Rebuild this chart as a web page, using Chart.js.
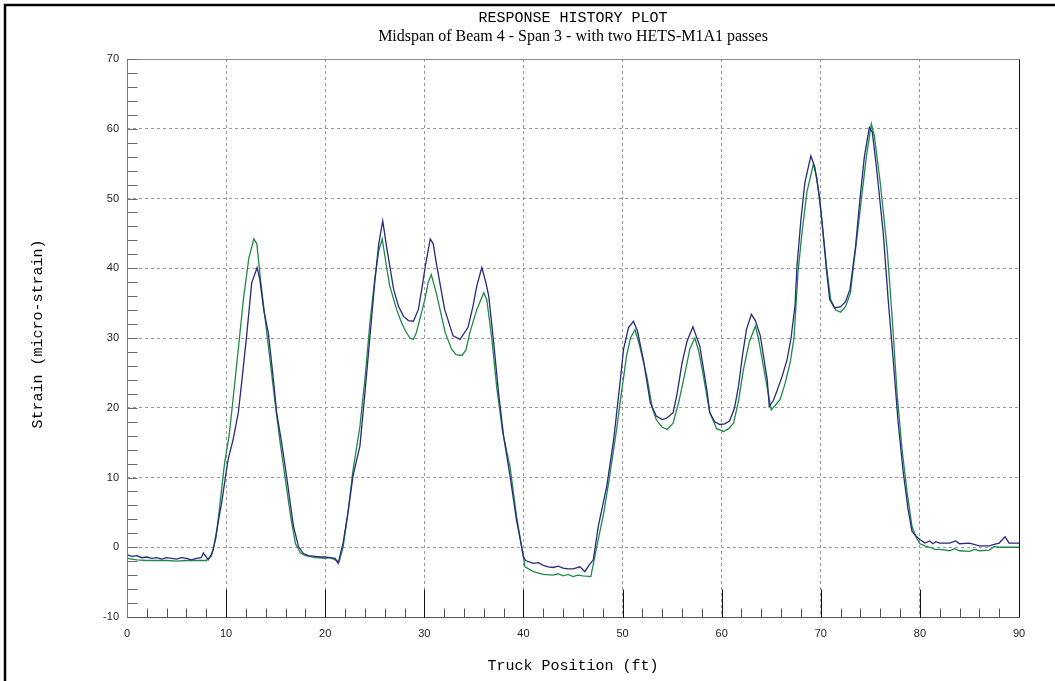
<!DOCTYPE html>
<html>
<head>
<meta charset="utf-8">
<title>Response History Plot</title>
<script src="https://cdn.jsdelivr.net/npm/chart.js@4.4.1/dist/chart.umd.min.js"></script>
<style>
  html, body { margin: 0; padding: 0; background: #ffffff; }
  canvas { display: block; }
</style>
</head>
<body>
<canvas id="plot" width="1055" height="681"></canvas>
<script>
// Strain response at midspan of beam 4, span 3, for two passes of the HETS-M1A1 truck
const titleText = 'RESPONSE HISTORY PLOT';
const subtitleText = 'Midspan of Beam 4 - Span 3 - with two HETS-M1A1 passes';
const xAxisTitle = 'Truck Position (ft)';
const yAxisTitle = 'Strain (micro-strain)';

const xTickValues = [0, 10, 20, 30, 40, 50, 60, 70, 80, 90];
const yTickValues = [-10, 0, 10, 20, 30, 40, 50, 60, 70];

// first pass (navy trace)
const passOneFt = [
  0, 0.5, 1, 1.5, 2, 2.5, 3, 3.5, 4, 4.5, 5, 5.5, 6, 6.5, 7, 7.5, 7.7, 8.2, 8.5, 8.7,
  9.0, 9.55, 10.2, 10.7, 11.23, 11.6, 12.07, 12.58, 13.13, 13.4, 13.8, 14.25, 14.7, 15.1, 15.6, 16.1,
  16.5, 16.8, 17.3, 17.8, 18.3, 19, 19.5, 20, 20.5, 21, 21.3, 21.8, 22.3, 22.8, 23.5, 24,
  24.5, 25, 25.4, 25.8, 26.2, 26.9, 27.4, 27.9, 28.4, 28.9, 29.4, 29.8, 30.1, 30.6, 30.9, 31.2,
  32.05, 32.9, 33.6, 34.4, 34.9, 35.3, 35.8, 36.2, 36.5, 37, 37.5, 38, 38.65, 39.3, 40, 40.2,
  41, 41.5, 42, 42.5, 43, 43.5, 44, 44.5, 45, 45.7, 46.2, 46.6, 47.05, 47.55, 48.4, 49.1,
  49.7, 50.1, 50.6, 51.1, 51.5, 52.1, 52.8, 53.4, 54, 54.45, 55.1, 55.5, 56, 56.5, 57.1, 57.8,
  58.5, 58.8, 59.3, 59.8, 60.3, 60.8, 61.3, 61.7, 62.1, 62.5, 63, 63.4, 63.9, 64.6, 64.8, 65.2,
  65.5, 66.1, 66.6, 67, 67.4, 67.6, 68, 68.4, 69, 69.4, 69.9, 70.3, 70.6, 70.9, 71.4, 72,
  72.5, 72.95, 73.5, 73.95, 74.4, 74.9, 75.2, 75.6, 76.3, 76.8, 77.3, 77.8, 78.3, 78.8, 79.2, 79.6,
  80, 80.5, 81, 81.3, 81.6, 82, 83, 83.6, 84, 85, 86, 87, 87.5, 88, 88.6, 89, 90
];
const passOneStrain = [
  -1.1, -1.3, -1.2, -1.5, -1.4, -1.6, -1.5, -1.7, -1.5, -1.6, -1.7, -1.5, -1.6, -1.8, -1.6, -1.5, -0.8, -1.8, -1.0, -0.4,
  2.0, 6.4, 12.6, 15.4, 19.3, 24.0, 30.3, 37.9, 40.1, 38.4, 34.0, 30.8, 25.0, 19.3, 15.0, 10.2,
  6.0, 3.0, 0.1, -0.9, -1.2, -1.3, -1.4, -1.4, -1.5, -1.6, -2.3, 0.6, 5.0, 10.2, 14.5, 22.0,
  30.0, 38.0, 43.5, 46.8, 43.0, 37.0, 34.5, 33.1, 32.5, 32.4, 34.1, 37.5, 40.3, 44.2, 43.5, 40.8,
  34.1, 30.3, 29.8, 31.5, 34.5, 37.5, 40.1, 38.0, 36.0, 29.3, 22.0, 15.9, 10.2, 3.9, -1.3, -1.9,
  -2.3, -2.2, -2.6, -2.8, -2.9, -2.7, -3.0, -3.1, -3.1, -2.8, -3.5, -2.6, -1.8, 3.0, 8.7, 15.4,
  23.0, 28.4, 31.5, 32.4, 31.0, 26.9, 20.7, 18.8, 18.3, 18.5, 19.3, 22.0, 26.4, 29.5, 31.6, 28.8,
  22.6, 19.3, 18.0, 17.6, 17.7, 18.1, 20.0, 23.1, 27.5, 31.2, 33.4, 32.5, 30.3, 24.0, 20.2, 21.0,
  22.1, 24.5, 26.9, 30.0, 34.6, 40.3, 47.0, 52.3, 56.1, 54.5, 49.9, 44.0, 39.4, 35.5, 34.3, 34.5,
  35.2, 37.0, 43.0, 49.9, 56.0, 60.2, 59.5, 54.7, 45.1, 35.5, 27.0, 18.0, 11.0, 5.5, 2.3, 1.6,
  1.1, 0.6, 0.9, 0.5, 0.8, 0.6, 0.6, 0.9, 0.5, 0.6, 0.2, 0.2, 0.4, 0.6, 1.5, 0.6, 0.6
];

// second pass (green trace)
const passTwoFt = [
  0, 0.5, 1, 2, 3, 4, 5, 6, 7, 8, 8.5, 9.0, 9.85, 10.3, 10.7, 11.2, 11.74, 12.3, 12.8, 13.1,
  13.5, 14, 14.5, 15, 15.5, 16, 16.5, 17, 17.5, 18, 19, 20, 20.5, 21, 21.4, 21.8, 22.3, 22.8,
  23.5, 24, 24.5, 25, 25.4, 25.75, 26.1, 26.5, 27.2, 27.7, 28.1, 28.55, 28.9, 29.2, 29.6, 30.05,
  30.4, 30.7, 31.2, 32.1, 32.75, 33.2, 33.8, 34.2, 34.6, 35.3, 36, 36.3, 36.8, 37.3, 37.9, 38.65,
  39.3, 40, 40.15, 41, 42, 43, 43.5, 44, 44.5, 45, 45.5, 46, 46.8, 47.4, 48.1, 48.7, 49.4,
  49.7, 50.4, 50.8, 51.25, 51.7, 52.45, 53, 53.4, 54, 54.5, 55.1, 55.7, 56.3, 56.8, 57.3, 57.7,
  58.1, 58.8, 59.5, 60.2, 60.7, 61.2, 61.7, 62.2, 62.8, 63.4, 63.7, 64.2, 65, 65.5, 65.9, 66.4,
  66.9, 67.3, 67.7, 68.1, 68.6, 69.25, 69.6, 70.1, 70.6, 71, 71.5, 72, 72.5, 73, 73.3, 73.7,
  74.1, 74.6, 75.1, 75.4, 76, 76.7, 77.2, 77.7, 78.2, 78.7, 79.2, 79.6, 80, 80.5, 81, 81.5,
  82, 83, 83.5, 84, 85, 85.5, 86, 87, 87.5, 88, 89, 90
];
const passTwoStrain = [
  -1.6, -1.7, -1.8, -1.9, -1.9, -1.9, -2.0, -1.9, -1.9, -1.9, -1.3, 1.5, 12.1, 16.0, 21.2, 28.0, 35.5, 41.5, 44.2, 43.5,
  38.0, 32.0, 26.0, 20.0, 14.5, 9.5, 4.5, 0.5, -0.8, -1.2, -1.5, -1.6, -1.5, -1.8, -2.1, 0.0, 5.0, 11.0,
  17.3, 24.0, 32.0, 38.5, 42.5, 44.2, 41.0, 37.5, 34.1, 32.2, 31.0, 30.0, 29.8, 30.8, 33.0, 35.5,
  38.0, 39.1, 36.5, 30.8, 28.4, 27.6, 27.5, 28.3, 30.8, 34.1, 36.5, 35.5, 30.0, 23.0, 16.5, 11.5,
  4.5, -1.5, -2.8, -3.5, -3.9, -4.0, -3.8, -4.1, -3.9, -4.2, -4.0, -4.1, -4.2, 0.1, 4.9, 10.2, 16.9,
  20.2, 27.4, 30.0, 31.2, 29.0, 24.5, 20.0, 18.3, 17.2, 16.9, 17.8, 21.0, 25.0, 28.5, 30.0, 28.0,
  25.0, 19.3, 17.0, 16.6, 17.0, 17.8, 21.0, 25.5, 29.5, 31.7, 30.0, 26.0, 19.7, 20.5, 21.2, 23.5,
  26.4, 30.0, 39.4, 45.0, 50.9, 54.9, 53.0, 47.0, 40.0, 35.5, 34.0, 33.7, 34.5, 36.5, 40.3, 45.0,
  49.9, 56.0, 60.7, 59.0, 52.3, 42.7, 33.0, 22.0, 14.0, 8.0, 3.0, 1.5, 0.5, 0.2, 0.0, -0.3,
  -0.3, -0.5, -0.2, -0.5, -0.6, -0.3, -0.5, -0.4, 0.1, 0.0, 0.0, 0.0
];

const toPoints = (xs, ys) => xs.map((x, i) => ({ x: x, y: ys[i] }));

// Frame, axis lines, tick marks and titles drawn around the plotting area
const framePlugin = {
  id: 'frame',
  afterDraw(chart) {
    const ctx = chart.ctx;
    const area = chart.chartArea;
    const xs = chart.scales.x;
    const ys = chart.scales.y;
    const L = Math.round(area.left) + 0.5;
    const R = Math.round(area.right) + 0.5;
    const T = Math.round(area.top) + 0.5;
    const B = Math.round(area.bottom) + 0.5;
    ctx.save();

    // outer frame
    ctx.strokeStyle = '#000000';
    ctx.lineWidth = 2.5;
    ctx.beginPath();
    ctx.moveTo(5, chart.height);
    ctx.lineTo(5, 5);
    ctx.lineTo(chart.width, 5);
    ctx.stroke();

    ctx.lineWidth = 1;
    // top border (gray) and right border (black)
    ctx.strokeStyle = '#8a8a8a';
    ctx.beginPath(); ctx.moveTo(L, T); ctx.lineTo(R, T); ctx.stroke();
    ctx.strokeStyle = '#111111';
    ctx.beginPath(); ctx.moveTo(R, T); ctx.lineTo(R, B); ctx.stroke();

    // left axis with inward tick marks every 2 units
    ctx.strokeStyle = '#7a7a7a';
    ctx.beginPath(); ctx.moveTo(L, T); ctx.lineTo(L, B); ctx.stroke();
    ctx.strokeStyle = '#6a6a6a';
    ctx.beginPath();
    for (let v = ys.min; v <= ys.max; v += 2) {
      const py = Math.round(ys.getPixelForValue(v)) + 0.5;
      ctx.moveTo(L, py); ctx.lineTo(L + 10, py);
    }
    ctx.stroke();

    // bottom axis with minor (2 ft) and major (10 ft) tick marks
    ctx.strokeStyle = '#555555';
    ctx.beginPath(); ctx.moveTo(L, B); ctx.lineTo(R, B); ctx.stroke();
    for (let v = xs.min + 2; v < xs.max; v += 2) {
      const px = Math.round(xs.getPixelForValue(v)) + 0.5;
      const major = v % 10 === 0;
      ctx.strokeStyle = major ? '#111111' : '#555555';
      ctx.beginPath();
      ctx.moveTo(px, B);
      ctx.lineTo(px, B - (major ? 28 : 9));
      ctx.stroke();
    }

    // titles
    const cx = (area.left + area.right) / 2;
    ctx.fillStyle = '#000000';
    ctx.textAlign = 'center';
    ctx.textBaseline = 'middle';
    ctx.font = '15px "Liberation Mono", "DejaVu Sans Mono", monospace';
    ctx.fillText(titleText, cx, 18);
    ctx.font = '16px "Liberation Serif", "DejaVu Serif", serif';
    ctx.fillText(subtitleText, cx, 37);
    ctx.font = '15px "Liberation Mono", "DejaVu Sans Mono", monospace';
    ctx.fillText(xAxisTitle, cx, 666);
    ctx.save();
    ctx.translate(38, 334);
    ctx.rotate(-Math.PI / 2);
    ctx.fillText(yAxisTitle, 0, 0);
    ctx.restore();

    ctx.restore();
  }
};

Chart.defaults.font.family = '"Liberation Sans", Arial, sans-serif';

new Chart(document.getElementById('plot'), {
  type: 'line',
  data: {
    datasets: [
      {
        label: 'Pass 2',
        data: toPoints(passTwoFt, passTwoStrain),
        borderColor: '#1f8a47',
        borderWidth: 1.3,
        pointRadius: 0,
        tension: 0,
        fill: false,
        order: 2
      },
      {
        label: 'Pass 1',
        data: toPoints(passOneFt, passOneStrain),
        borderColor: '#272a7e',
        borderWidth: 1.3,
        pointRadius: 0,
        tension: 0,
        fill: false,
        order: 1
      }
    ]
  },
  options: {
    responsive: false,
    animation: false,
    devicePixelRatio: 1,
    layout: { padding: { left: 0, right: 36, top: 59, bottom: 0 } },
    plugins: {
      legend: { display: false },
      tooltip: { enabled: false },
      title: { display: false }
    },
    scales: {
      x: {
        type: 'linear',
        min: 0,
        max: 90,
        afterBuildTicks: (scale) => { scale.ticks = xTickValues.map(v => ({ value: v })); },
        afterFit: (scale) => { scale.height = 64; },
        ticks: {
          color: '#222222',
          font: { size: 11 },
          padding: 10,
          maxRotation: 0,
          autoSkip: false,
          callback: (v) => String(v)
        },
        grid: {
          drawTicks: false,
          color: '#9a9a9a',
          lineWidth: 1
        },
        border: { display: false, dash: [3, 3] }
      },
      y: {
        type: 'linear',
        min: -10,
        max: 70,
        afterBuildTicks: (scale) => { scale.ticks = yTickValues.map(v => ({ value: v })); },
        afterFit: (scale) => { scale.width = 127; },
        ticks: {
          color: '#222222',
          font: { size: 11 },
          padding: 8,
          autoSkip: false,
          callback: (v) => String(v)
        },
        grid: {
          drawTicks: false,
          color: '#9a9a9a',
          lineWidth: 1
        },
        border: { display: false, dash: [3, 3] }
      }
    }
  },
  plugins: [framePlugin]
});
</script>
</body>
</html>
